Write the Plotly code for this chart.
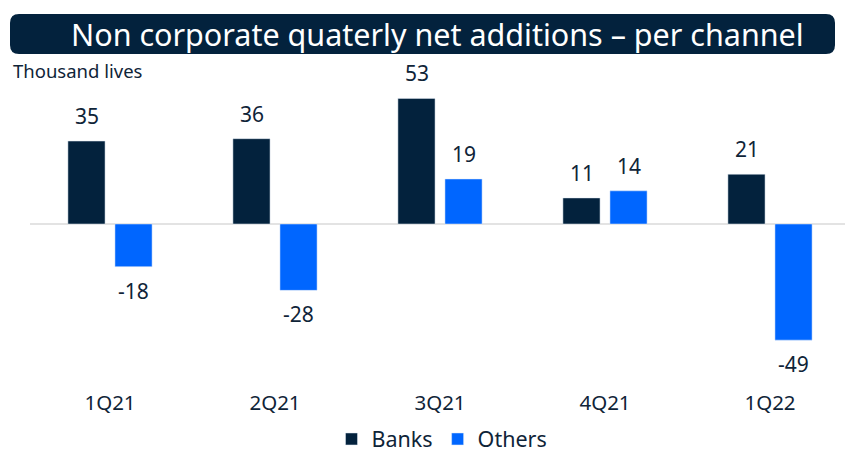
import plotly.graph_objects as go

categories = ["1Q21", "2Q21", "3Q21", "4Q21", "1Q22"]
banks = [35, 36, 53, 11, 21]
others = [-18, -28, 19, 14, -49]

NAVY = "#03223D"
BLUE = "#0066FF"
TEXT = "#0F2438"
FONT = "Noto Sans"

W, H = 845, 451
L, R, T, B = 30, 0, 70, 63
pw, ph = W - L - R, H - T - B

def px(x):
    return (x - L) / pw

def py(y):
    return (H - B - y) / ph

fig = go.Figure()
fig.add_bar(name="Banks", x=categories, y=banks, marker_color=NAVY)
fig.add_bar(name="Others", x=categories, y=others, marker_color=BLUE)

ann = []
for series, shift in ((banks, -23.5), (others, 23.5)):
    for c, v in zip(categories, series):
        ann.append(dict(x=c, y=v, xref="x", yref="y", text=str(v), showarrow=False,
                        xshift=shift, yanchor="bottom" if v >= 0 else "top",
                        yshift=9 if v >= 0 else -8,
                        font=dict(family=FONT, size=21, color=TEXT)))

ann.append(dict(x=px(437), y=py(34), xref="paper", yref="paper",
                text="Non corporate quaterly net additions – per channel",
                showarrow=False, xanchor="center", yanchor="middle",
                font=dict(family=FONT, size=30.5, color="white")))
ann.append(dict(x=px(11), y=py(70), xref="paper", yref="paper",
                text="Thousand lives", showarrow=False, xanchor="left", yanchor="middle",
                font=dict(family=FONT, size=18.5, color=TEXT)))

# rounded title bar
x0, x1, y0, y1 = 10, 835, 14, 54
r = 9
path = (f"M {px(x0+r)},{py(y0)} L {px(x1-r)},{py(y0)} Q {px(x1)},{py(y0)} {px(x1)},{py(y0+r)} "
        f"L {px(x1)},{py(y1-r)} Q {px(x1)},{py(y1)} {px(x1-r)},{py(y1)} "
        f"L {px(x0+r)},{py(y1)} Q {px(x0)},{py(y1)} {px(x0)},{py(y1-r)} "
        f"L {px(x0)},{py(y0+r)} Q {px(x0)},{py(y0)} {px(x0+r)},{py(y0)} Z")

zero_px = 224
scale = 2.37
ymax = (zero_px - T) / scale
ymin = -((H - B) - zero_px) / scale

fig.update_layout(
    width=W, height=H,
    margin=dict(l=L, r=R, t=T, b=B, autoexpand=False),
    paper_bgcolor="white", plot_bgcolor="white",
    barmode="group", bargap=0.43, bargroupgap=0.21,
    annotations=ann,
    shapes=[dict(type="path", path=path, xref="paper", yref="paper",
                 fillcolor=NAVY, line=dict(width=0), layer="above")],
    legend=dict(orientation="h", x=px(442), xanchor="center", y=py(439), yanchor="middle",
                font=dict(family=FONT, size=21.5, color=TEXT)),
    showlegend=True,
    xaxis=dict(range=[-80/165, 4 + 75/165], showgrid=False, showline=False,
               ticks="", tickfont=dict(family=FONT, size=20.5, color=TEXT)),
    yaxis=dict(range=[ymin, ymax], showgrid=False, showticklabels=False,
               zeroline=True, zerolinecolor="#E3E3E3", zerolinewidth=1.5),
    font=dict(family=FONT),
)

fig.write_html("out.html", config={"displayModeBar": False},
               post_script="document.body.style.margin='0';document.body.style.overflow='hidden';")
